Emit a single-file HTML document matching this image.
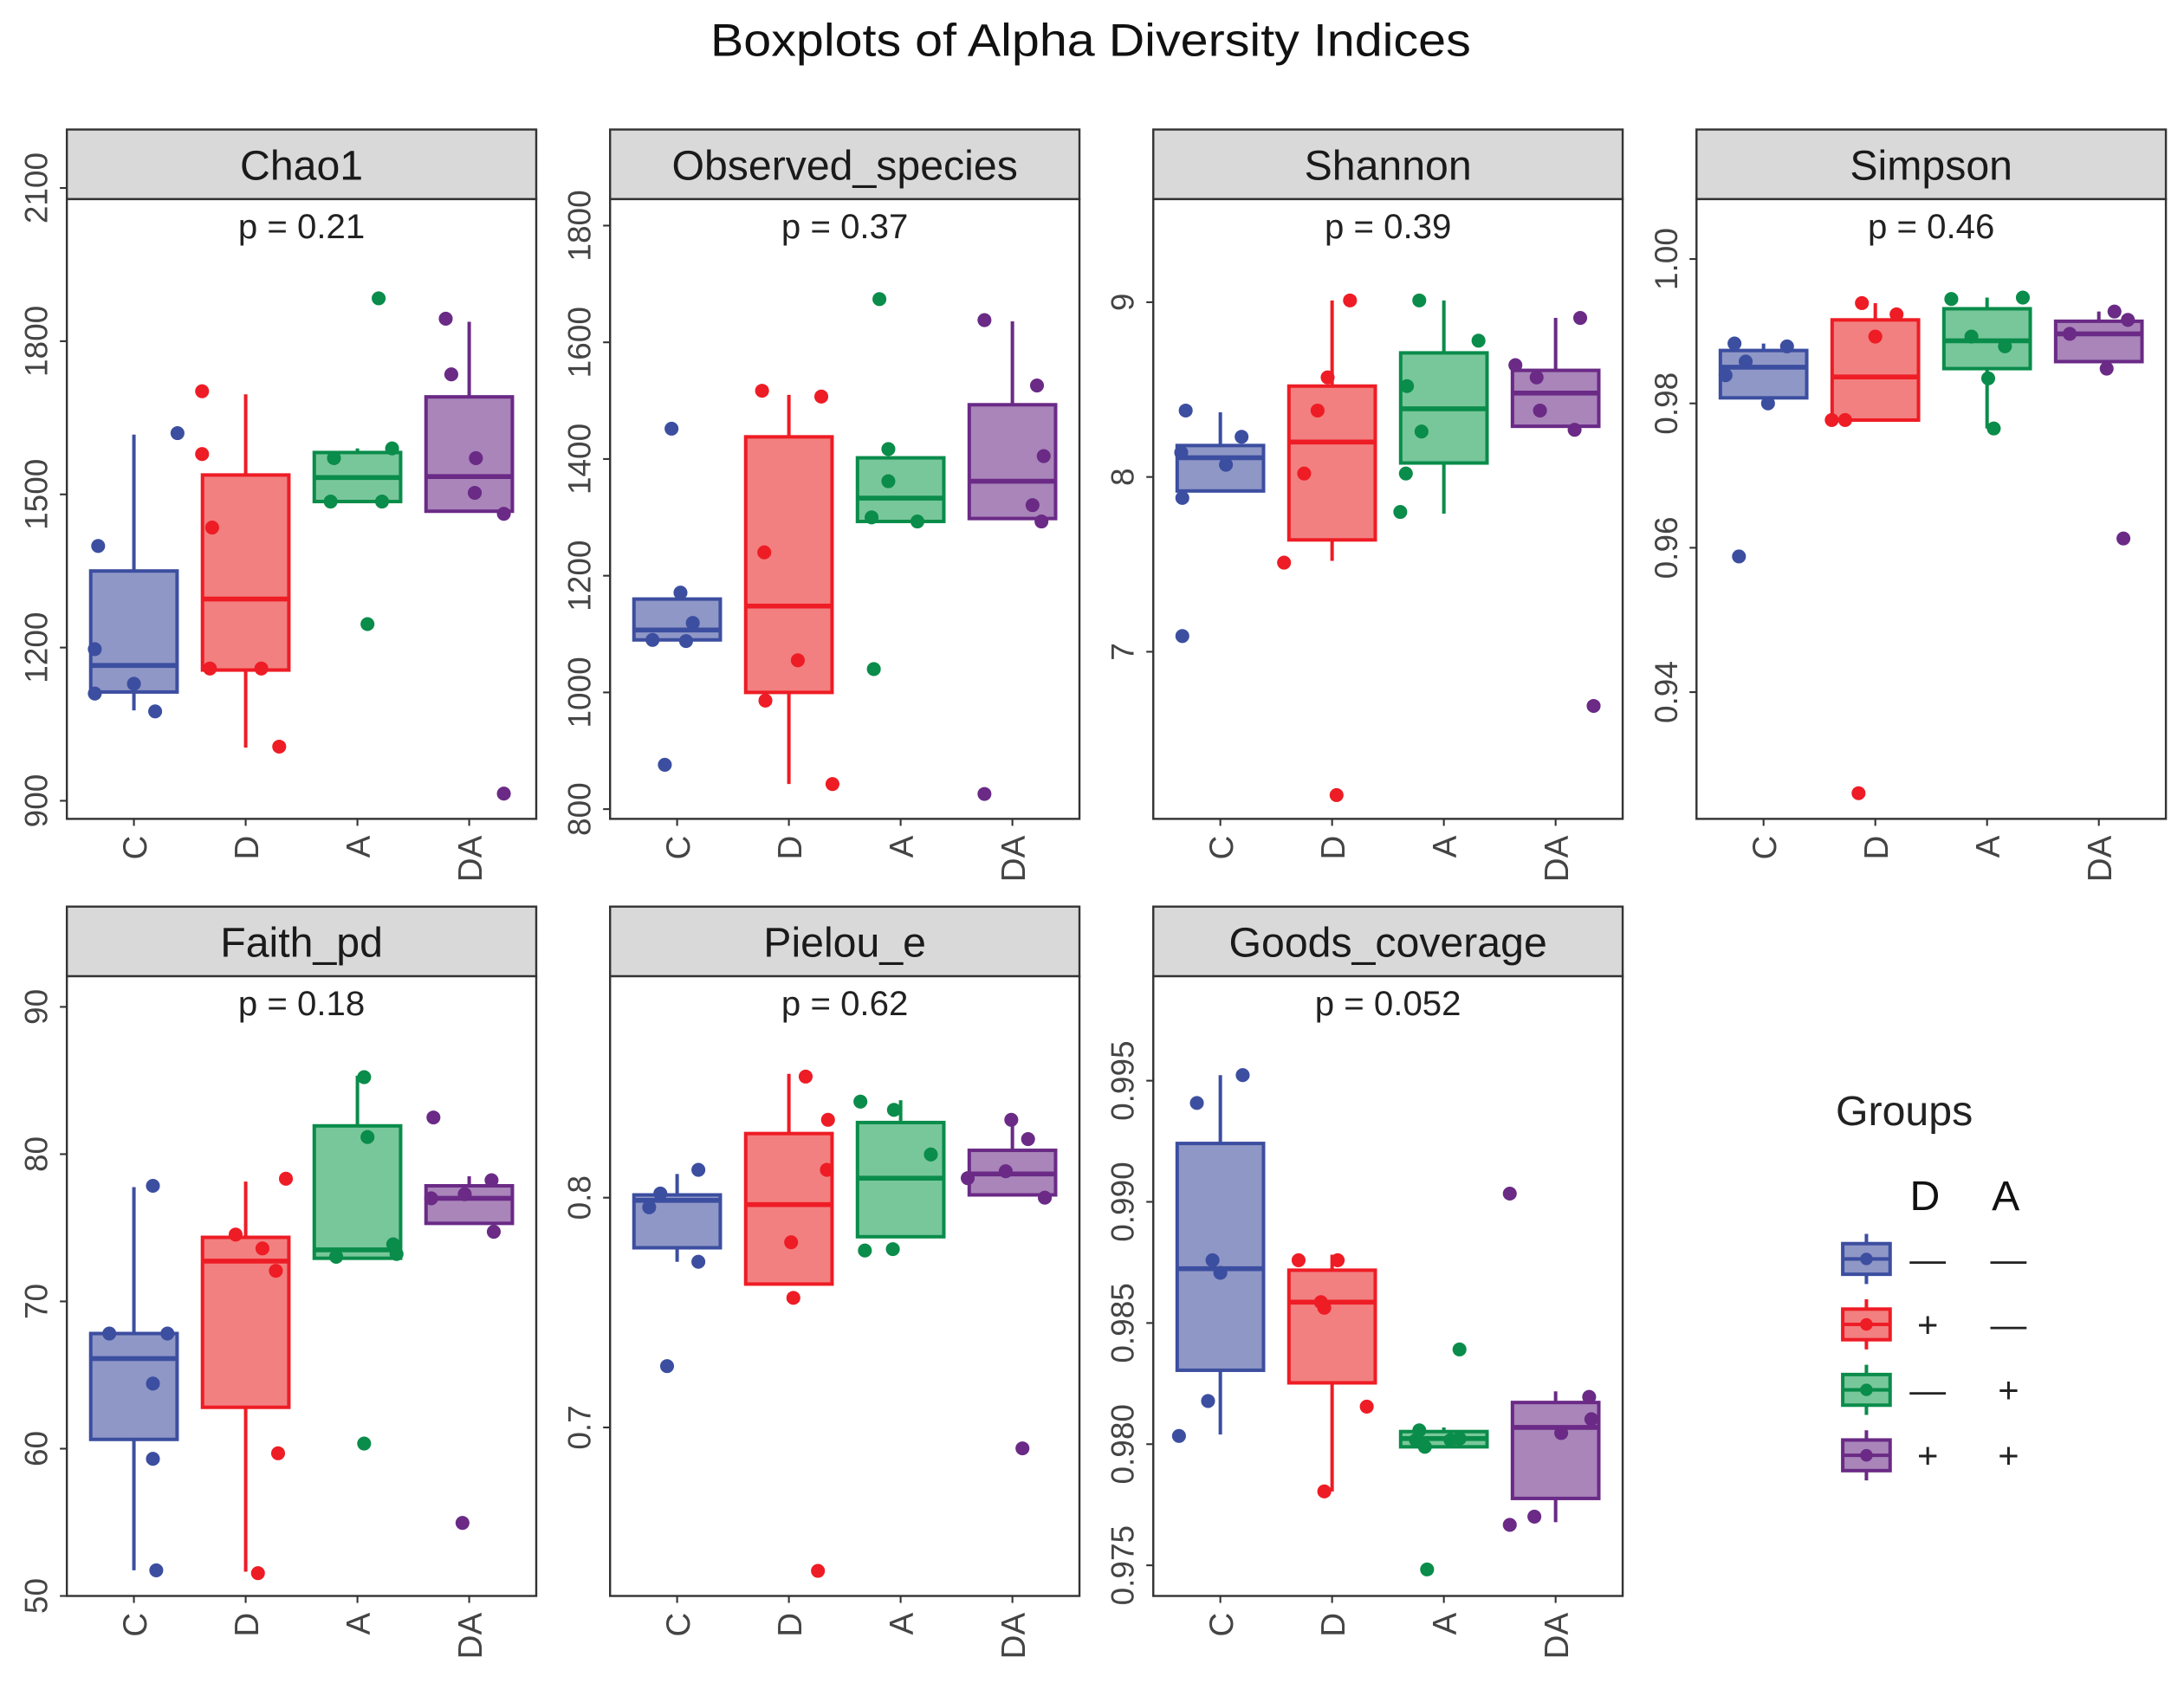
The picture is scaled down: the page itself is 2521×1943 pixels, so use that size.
<!DOCTYPE html>
<html><head><meta charset="utf-8">
<style>
html,body{margin:0;padding:0;background:#fff;}
svg{display:block;font-family:"Liberation Sans",sans-serif;}
</style></head>
<body>
<svg id="chart" width="2521" height="1943" viewBox="0 0 1568 1208.5" preserveAspectRatio="none" xmlns="http://www.w3.org/2000/svg">
<text x="783" y="40" font-size="33" text-anchor="middle" textLength="546" lengthAdjust="spacingAndGlyphs" fill="#111">Boxplots of Alpha Diversity Indices</text>
</svg>
<script>
const categories = ['C','D','A','DA'];
const groupColors = ['#3C4EA0','#EE1C25','#0A8C4A','#6A2A86'];
const groupFills = ['#8F97C6','#F28080','#78C79B','#A985B9'];
const panelTitles = ['Chao1','Observed_species','Shannon','Simpson','Faith_pd','Pielou_e','Goods_coverage'];
const pValues = ['p = 0.21','p = 0.37','p = 0.39','p = 0.46','p = 0.18','p = 0.62','p = 0.052'];
const tickLabels = [
 ['900','1200','1500','1800','2100'],
 ['800','1000','1200','1400','1600','1800'],
 ['7','8','9'],
 ['0.94','0.96','0.98','1.00'],
 ['50','60','70','80','90'],
 ['0.7','0.8'],
 ['0.975','0.980','0.985','0.990','0.995']
];
// box stats per group: [q1, median, q3, whiskerLow, whiskerHigh]
const chao1Box = [[1113,1165,1350,1077,1617],[1156,1295,1538,1004,1696],[1486,1533,1582,1486,1590],[1467,1535,1691,1467,1838]];
const chao1Pts = [[1399,1197,1110,1129,1075,1620],[1702,1579,1435,1159,1159,1006],[1571,1486,1486,1590,1246,1884],[1844,1735,1571,1503,1462,914]];
const chao1Jit = [[-.32,-.35,-.35,0,.19,.39],[-.39,-.39,-.3,-.32,.14,.3],[-.21,-.24,.22,.31,.09,.19],[-.21,-.16,.06,.05,.31,.31]];
const obsBox = [[1090,1107,1160,1090,1160],[1000,1148,1438,843,1510],[1293,1333,1402,1293,1402],[1298,1362,1493,1298,1636]];
const obsPts = [[1452,1171,1119,1088,1090,876],[1517,1507,1240,1055,986,843],[1674,1417,1362,1300,1293,1040],[1638,1526,1405,1321,1293,826]];
const obsJit = [[-.05,.03,.14,.08,-.22,-.11],[-.24,.29,-.22,.08,-.21,.39],[-.19,-.11,-.11,-.26,.15,-.24],[-.25,.22,.28,.18,.26,-.25]];
const shanBox = [[7.92,8.11,8.18,7.92,8.37],[7.64,8.20,8.52,7.52,9.01],[8.08,8.39,8.71,7.79,9.01],[8.29,8.48,8.61,8.29,8.91]];
const shanPts = [[8.38,8.14,8.07,8.23,7.88,7.09],[9.01,8.57,8.38,8.02,7.51,6.18],[9.01,8.52,8.26,8.78,8.02,7.80],[8.91,8.64,8.57,8.38,8.27,6.69]];
const shanJit = [[-.31,-.35,.05,.19,-.34,-.34],[.16,-.04,-.13,-.25,-.43,.04],[-.22,-.33,-.2,.31,-.34,-.39],[.22,-.36,-.17,-.14,.17,.34]];
const simpBox = [[.98077,.98501,.98733,.98077,.98829],[.97769,.98366,.99157,.97769,.99389],[.98482,.98868,.99311,.97653,.99466],[.98579,.98964,.99138,.98579,.99273]];
const simpPts = [[.9883,.9879,.9858,.9839,.98,.9588],[.9939,.99234,.98926,.9777,.9777,.926],[.99446,.99466,.98926,.98791,.98347,.97653],[.99273,.98964,.99157,.98482,.96129]];
const simpJit = [[-.26,.21,-.16,-.34,.04,-.22],[-.12,.19,0,-.39,-.27,-.15],[-.32,.32,-.14,.16,.01,.06],[.14,-.26,.26,.07,.22]];
const faithBox = [[60.63,66.12,67.82,51.74,77.76],[62.81,72.74,74.35,51.65,78.14],[72.93,73.5,81.92,72.93,85.33],[75.3,77.0,77.85,75.3,78.5]];
const faithPts = [[77.85,67.82,67.82,64.42,59.31,51.74],[74.54,73.6,72.08,78.33,59.69,51.55],[85.23,81.16,73.88,73.22,73.03,60.35],[82.49,77.0,78.23,74.73,54.96,77.28]];
const faithJit = [[.17,-.22,.3,.17,.17,.2],[-.09,.15,.27,.36,.29,.11],[.06,.09,.32,.35,-.19,.06],[-.32,-.34,.2,.22,-.06,-.04]];
const pielBox = [[.7782,.7988,.8012,.7721,.8103],[.7624,.797,.8279,.7624,.8539],[.783,.8085,.8327,.783,.8424],[.8012,.8103,.8206,.8012,.8339]];
const pielPts = [[.8018,.8121,.7958,.7721,.7267],[.8527,.8339,.8121,.7806,.7564,.6376],[.8418,.8382,.8188,.777,.7776],[.8085,.8115,.8339,.8255,.8,.6909]];
const pielJit = [[-.15,.19,-.25,.19,-.09],[.15,.35,.34,.02,.04,.26],[-.36,-.06,.27,-.32,-.07],[-.4,-.06,-.01,.14,.29,.09]];
const goodBox = [[.98305,.98724,.99241,.9804,.99523],[.98253,.98586,.98718,.97805,.98782],[.97989,.98023,.98052,.97989,.98069],[.97776,.98069,.98172,.97678,.98218]];
const goodPts = [[.99408,.99523,.98759,.98707,.98178,.98034],[.98759,.98759,.98586,.98563,.98155,.97805],[.98057,.98017,.98017,.98023,.97989,.98391,.97483],[.99034,.98195,.98046,.98103,.97667,.97701]];
const goodJit = [[-.21,.2,-.07,0,-.11,-.37],[.05,-.3,-.1,-.07,.31,-.07],[-.22,-.25,.06,.14,-.17,.14,-.15],[-.41,.3,.05,.32,-.41,-.19]];

const boxes = [chao1Box,obsBox,shanBox,simpBox,faithBox,pielBox,goodBox];
const pts = [chao1Pts,obsPts,shanPts,simpPts,faithPts,pielPts,goodPts];
const jits = [chao1Jit,obsJit,shanJit,simpJit,faithJit,pielJit,goodJit];
// axis scale anchors: [value0, y0, value1, y1]
const scales = [[900,575,2100,135],[800,581,1800,162],[7,468,9,217],[0.94,497,1.00,186],[50,1146,90,723],[0.7,1025,0.8,860],[0.975,1124,0.995,776]];

const NS='http://www.w3.org/2000/svg';
const svg=document.getElementById('chart');
function mk(tag,attrs,parent){const e=document.createElementNS(NS,tag);for(const k in attrs)e.setAttribute(k,attrs[k]);(parent||svg).appendChild(e);return e;}

const panelX=[48,438,828,1218];
const PW=337, unit=PW/4.2;
for(let p=0;p<7;p++){
  const px=panelX[p%4], row=Math.floor(p/4);
  const top=row?701:143, bot=top+445;
  const g=mk('g',{});
  
  
  const sc=scales[p];
  const y=v=>sc[1]+(v-sc[0])*(sc[3]-sc[1])/(sc[2]-sc[0]);
  const x=i=>px+unit*(0.6+i);
  const strip=mk('rect',{x:px,y:top-50,width:PW,height:50,fill:'#D9D9D9',stroke:'#333','stroke-width':1.5},g);
  
  
  const st=mk('text',{x:px+PW/2,y:top-14,'font-size':30,'text-anchor':'middle',fill:'#1a1a1a'},g);
  st.textContent=panelTitles[p];
  
  
  mk('rect',{x:px,y:top,width:PW,height:445,fill:'#fff',stroke:'#333','stroke-width':1.5},g);
  const pt=mk('text',{x:px+PW/2,y:top+28,'font-size':25,'text-anchor':'middle',fill:'#222'},g);
  pt.textContent=pValues[p];
  
  
  tickLabels[p].forEach(t=>{
    const yy=y(parseFloat(t));
    mk('line',{x1:px-5,x2:px,y1:yy,y2:yy,stroke:'#333','stroke-width':1.3},g);
    const tl=mk('text',{x:px-14,y:yy,'font-size':23,'text-anchor':'middle',fill:'#444',transform:`rotate(-90 ${px-14} ${yy})`},g);
    tl.textContent=t;
    
    
  });
  categories.forEach((c,i)=>{
    const xx=x(i);
    mk('line',{x1:xx,x2:xx,y1:bot,y2:bot+5,stroke:'#333','stroke-width':1.3},g);
    const cl=mk('text',{x:xx+9,y:bot+12,'font-size':24,'text-anchor':'end',fill:'#444',transform:`rotate(-90 ${xx+9} ${bot+12})`},g);
    cl.textContent=c;
    
    
    const b=boxes[p][i], col=groupColors[i], hw=31;
    mk('line',{x1:xx,x2:xx,y1:y(b[4]),y2:y(b[2]),stroke:col,'stroke-width':2.5},g);
    mk('line',{x1:xx,x2:xx,y1:y(b[0]),y2:y(b[3]),stroke:col,'stroke-width':2.5},g);
    const r=mk('rect',{x:xx-hw,y:y(b[2]),width:2*hw,height:Math.max(1,y(b[0])-y(b[2])),fill:groupFills[i],stroke:col,'stroke-width':2.5},g);
    
    
    mk('line',{x1:xx-hw,x2:xx+hw,y1:y(b[1]),y2:y(b[1]),stroke:col,'stroke-width':3.5},g);
    pts[p][i].forEach((v,k)=>{
      const d=mk('circle',{cx:xx+jits[p][i][k]*unit,cy:y(v),r:5,fill:col},g);
      
      
    });
  });
}
const lg=mk('g',{});


const lt=mk('text',{x:1318,y:808,'font-size':30,fill:'#222'},lg);
lt.textContent='Groups';


const hD=mk('text',{x:1382,y:869,'font-size':30,'text-anchor':'middle',fill:'#111'},lg);hD.textContent='D';


const hA=mk('text',{x:1440,y:869,'font-size':30,'text-anchor':'middle',fill:'#111'},lg);hA.textContent='A';


const dSym=['—','+','—','+'], aSym=['—','—','+','+'];
[904,951,998,1045].forEach((cy,i)=>{
  const e=mk('g',{},lg);
  
  
  const col=groupColors[i];
  mk('line',{x1:1340,x2:1340,y1:cy-18,y2:cy+18,stroke:col,'stroke-width':2.5},e);
  mk('rect',{x:1323,y:cy-11,width:34,height:22,fill:groupFills[i],stroke:col,'stroke-width':2.5},e);
  mk('line',{x1:1323,x2:1357,y1:cy,y2:cy,stroke:col,'stroke-width':2.5},e);
  mk('circle',{cx:1340,cy:cy,r:4.5,fill:col},e);
  const t1=mk('text',{x:1384,y:cy+9,'font-size':26,'text-anchor':'middle',fill:'#222'},e);t1.textContent=dSym[i];
  const t2=mk('text',{x:1442,y:cy+9,'font-size':26,'text-anchor':'middle',fill:'#222'},e);t2.textContent=aSym[i];
});
</script>
</body></html>
